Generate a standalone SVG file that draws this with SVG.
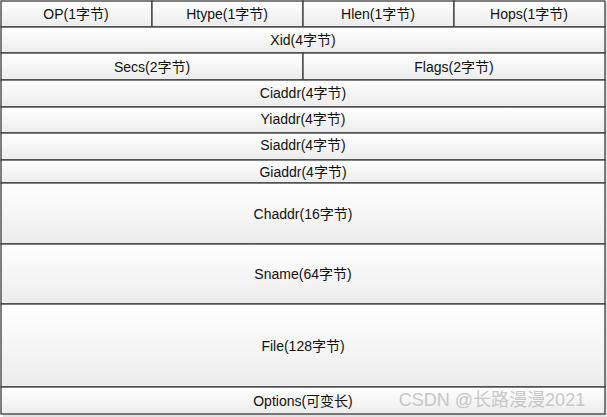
<svg xmlns="http://www.w3.org/2000/svg" width="607" height="417" viewBox="0 0 607 417">
<style>
.c{fill:url(#g);stroke:#3c3c3c;stroke-width:1.3}
.t{font-family:"Liberation Sans","Noto Sans CJK SC",sans-serif;font-size:14px;fill:#111;text-anchor:middle}
</style>
<defs>
<linearGradient id="g" x1="0" y1="0" x2="0" y2="1">
<stop offset="0" stop-color="#ffffff"/>
<stop offset="1" stop-color="#ececec"/>
</linearGradient>
</defs>
<rect x="0" y="0" width="607" height="417" fill="#ffffff"/>
<rect x="3" y="3" width="604" height="414" fill="#e2e2e2"/>
<g id="op"><rect class="c" x="1" y="1" width="151" height="26"/><text class="t" x="76" y="19">OP(1字节)</text></g>
<g id="htype"><rect class="c" x="152" y="1" width="151" height="26"/><text class="t" x="227" y="19">Htype(1字节)</text></g>
<g id="hlen"><rect class="c" x="303" y="1" width="151" height="26"/><text class="t" x="378" y="19">Hlen(1字节)</text></g>
<g id="hops"><rect class="c" x="454" y="1" width="151" height="26"/><text class="t" x="529" y="19">Hops(1字节)</text></g>
<g id="xid"><rect class="c" x="1" y="27" width="604" height="26"/><text class="t" x="303" y="45">Xid(4字节)</text></g>
<g id="secs"><rect class="c" x="1" y="53" width="302" height="27"/><text class="t" x="152" y="72">Secs(2字节)</text></g>
<g id="flags"><rect class="c" x="303" y="53" width="302" height="27"/><text class="t" x="454" y="72">Flags(2字节)</text></g>
<g id="ciaddr"><rect class="c" x="1" y="80" width="604" height="27"/><text class="t" x="303" y="98">Ciaddr(4字节)</text></g>
<g id="yiaddr"><rect class="c" x="1" y="107" width="604" height="26"/><text class="t" x="303" y="124">Yiaddr(4字节)</text></g>
<g id="siaddr"><rect class="c" x="1" y="133" width="604" height="27"/><text class="t" x="303" y="150">Siaddr(4字节)</text></g>
<g id="giaddr"><rect class="c" x="1" y="160" width="604" height="23"/><text class="t" x="303" y="177">Giaddr(4字节)</text></g>
<g id="chaddr"><rect class="c" x="1" y="183" width="604" height="61"/><text class="t" x="303" y="219">Chaddr(16字节)</text></g>
<g id="sname"><rect class="c" x="1" y="244" width="604" height="60"/><text class="t" x="303" y="279">Sname(64字节)</text></g>
<g id="file"><rect class="c" x="1" y="304" width="604" height="83"/><text class="t" x="303" y="351">File(128字节)</text></g>
<g id="options"><rect class="c" x="1" y="387" width="604" height="27"/><text class="t" x="303" y="406">Options(可变长)</text></g>
<g id="connectors"></g>
<text x="492" y="406" font-family="Liberation Sans,Noto Sans CJK SC,sans-serif" font-size="18" fill="#c8c8c8" text-anchor="middle">CSDN @长路漫漫2021</text>
</svg>
